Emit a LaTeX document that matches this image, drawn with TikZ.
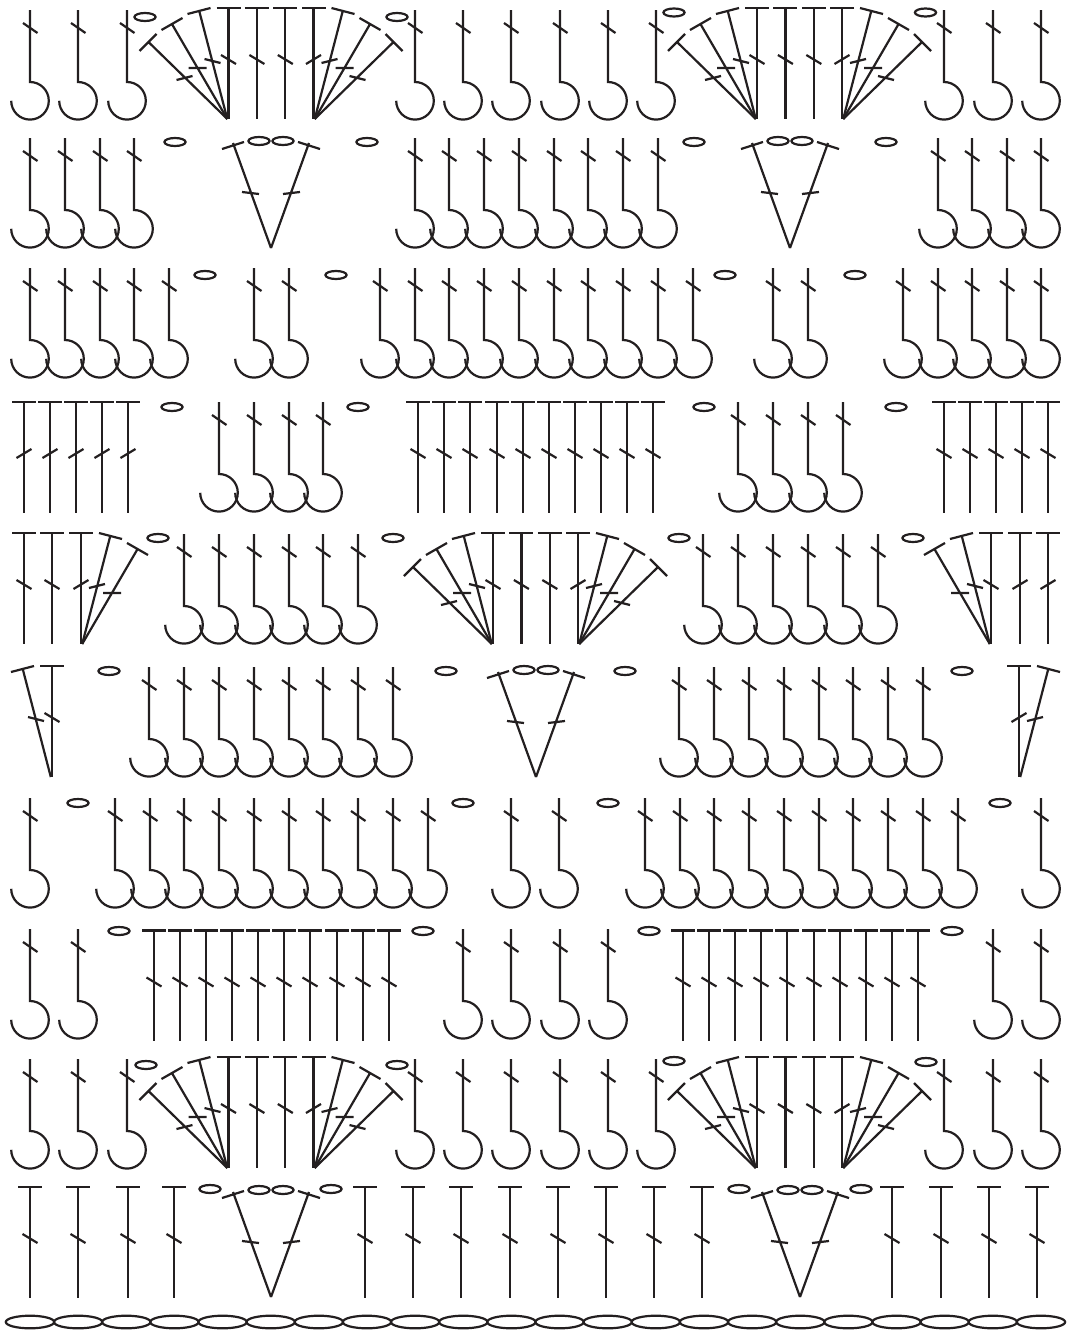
\documentclass[tikz,border=0pt]{standalone}
\definecolor{ink}{HTML}{231F20}
\tikzset{ln/.style={draw=ink,line width=2.2pt,line cap=butt,line join=miter}}
% single crochet with hook: #1 top, #2 list of x
\newcommand\Hooks[2]{\foreach \hx in {#2}{%
  \draw[ln] (\hx,#1) -- ++(0,72) arc[start angle=90,end angle=-180,radius=18.8pt];
  \draw[ln] (\hx-7,#1+13) -- (\hx+7.5,#1+23);}}
% tall stitch with bar: #1 top, #2 tick sign (1 = backslash, -1 = slash), #3 list of x
\newcommand\Tees[3]{\foreach \hx in {#3}{%
  \draw[ln] (\hx-12,#1) -- (\hx+12,#1) (\hx,#1) -- (\hx,#1+110.5);
  \draw[ln] (\hx-7.5*#2,#1+51.5-4.5) -- (\hx+7.5*#2,#1+51.5+4.5);}}
% chain ovals: list of x/y
\newcommand\Ovals[1]{\foreach \hx/\hy in {#1}{%
  \draw[ln] (\hx,\hy) ellipse[x radius=10.6pt,y radius=4pt];}}
% fan side: #1 base x, #2 base y, #3 mirror (1 left, -1 right), #4 arm count
\newcommand\FanSide[4]{\begin{scope}[shift={(#1,#2)},xscale=#3]
  \draw[ln] (-12,-111) -- (12,-111) (0,-111) -- (0,0);
  \draw[ln] (-7.5,-64) -- (7.5,-55);
  \draw[ln] (-29,-107) -- (-1.2,0) (-41,-105) -- (-18,-111) (-24,-60) -- (-8,-56);
  \ifnum#4>1
  \draw[ln] (-56,-94) -- (-1.2,0) (-67,-89) -- (-46,-101) (-40,-51) -- (-22,-51);
  \fi
  \ifnum#4>2
  \draw[ln] (-79,-76) -- (-1.2,0) (-89,-68) -- (-72,-85) (-52,-39) -- (-36,-43);
  \fi
\end{scope}}
% full fan: #1 left base x, #2 base y
\newcommand\FullFan[2]{\FanSide{#1}{#2}{1}{3}\FanSide{#1+85}{#2}{-1}{3}%
  \foreach \fx in {28.4,56.8}{\Tees{#2-111}{1}{#1+\fx}}}
% V group: #1 apex x, #2 apex y
\newcommand\VeeGroup[2]{\begin{scope}[shift={(#1,#2)}]
  \foreach \sx in {1,-1}{\begin{scope}[xscale=\sx]
    \draw[ln] (0,0) -- (-38,-105) (-49,-99) -- (-27,-106) (-29,-56) -- (-12,-54);
    \draw[ln] (-12,-107) ellipse[x radius=10.6pt,y radius=4pt];
  \end{scope}}
\end{scope}}
\begin{document}
\begin{tikzpicture}[x=1pt,y=-1pt]
\useasboundingbox (0,0) rectangle (1067,1333);
% row 1
\Hooks{10}{30,78,127,415,463,511,560,608,656,944,993,1041}
\FullFan{228.5}{119}\FullFan{757}{119}
\Ovals{145/17,397/17,674/12.5,925.5/12.5}
% row 2
\Hooks{138}{30,65,100,134,415,449,484,519,554,588,623,658,938,972,1007,1041}
\VeeGroup{271}{248}\VeeGroup{790}{248}
\Ovals{175/142,367/142,694/142,886/142}
% row 3
\Hooks{268}{30,65,100,134,169,254,289,380,415,449,484,519,554,588,623,658,693,773,808,903,938,972,1007,1041}
\Ovals{205/275,336/275,725/275,855/275}
% row 4
\Tees{402}{-1}{24,50,76,102,128}
\Tees{402}{1}{418,444,470,497,523,549,575,601,627,653,944,970,996,1022,1048}
\Hooks{402}{219,254,289,323,738,773,808,843}
\Ovals{172/407,358/407,704/407,896/407}
% row 5
\Tees{533}{1}{24,52}
\FanSide{81}{644}{-1}{2}
\Hooks{534}{184,219,254,289,323,358,703,738,773,808,843,878}
\FullFan{493}{644}
\FanSide{991}{644}{1}{2}
\Tees{533}{-1}{1020,1048}
\Ovals{158/538,393/538,679/538,913/538}
% row 6
\FanSide{52}{777}{1}{1}
\Hooks{667}{149,184,219,254,289,323,358,393,679,714,749,784,819,853,888,923}
\VeeGroup{536}{777}
\FanSide{1019}{777}{-1}{1}
\Ovals{109/671,446/671,625/671,962/671}
% row 7
\Hooks{798}{30,115,150,184,219,254,289,323,358,393,428,511,559,645,680,714,749,784,819,853,888,923,958,1041}
\Ovals{78/803,463/803,608/803,1000/803}
% row 8
\Hooks{929}{30,78,463,511,560,608,993,1041}
\Tees{930.5}{1}{154,180,206,232,258,284,310,337,363,389,683,709,735,761,787,814,840,866,892,918}
\Ovals{119/931,423/931,649/931,952/931}
% row 9
\Hooks{1059}{30,78,127,415,463,511,560,608,656,944,993,1041}
\FullFan{228.5}{1168}\FullFan{757}{1168}
\Ovals{146/1065,397/1065,674/1061,926/1062}
% row 10
\Tees{1187}{1}{30,78,128,174,365,413,461,510,558,606,654,702,892,941,989,1037}
\VeeGroup{271}{1297}\VeeGroup{800}{1297}
\Ovals{210/1189,331/1189,739/1189,861/1189}
% foundation chain
\foreach \i in {0,...,21}{\draw[ln] (30+48.14*\i,1322) ellipse[x radius=24.2pt,y radius=6.3pt];}
\end{tikzpicture}
\end{document}
